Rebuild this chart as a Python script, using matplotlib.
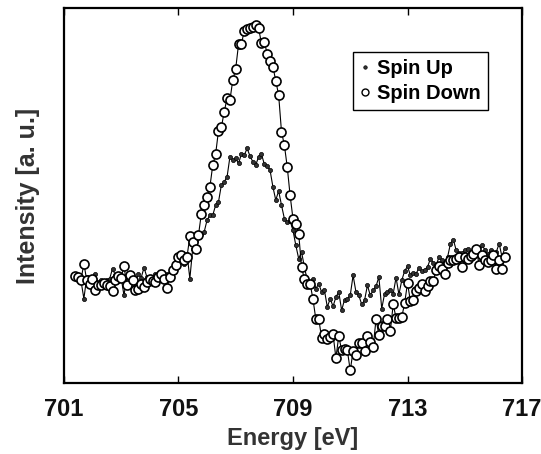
import numpy as np
import matplotlib
matplotlib.use("Agg")
import matplotlib.pyplot as plt

plt.rcParams['font.family'] = ['Liberation Sans', 'DejaVu Sans']

# energy grid, 0.1 eV steps
energy = np.round(np.arange(701.4, 716.45, 0.1), 2)

spin_up = [
    31.6, 31.2, 30.6, 25.3, 31.8, 30.3, 31.6, 32.6, 30.0, 31.0,
    30.2, 30.8, 31.3, 34.3, 32.3, 30.6, 31.6, 26.3, 31.8, 30.0,
    31.8, 30.8, 32.6, 31.6, 34.6, 31.8, 30.6, 31.8, 32.8, 31.2,
    32.3, 30.6, 32.6, 32.0, 33.3, 34.8, 36.3, 37.8, 35.8, 38.8,
    31.3, 40.3, 42.6, 44.8, 44.8, 45.3, 48.8, 50.3, 50.3, 53.3,
    54.3, 59.3, 60.3, 61.8, 67.8, 66.8, 67.3, 65.8, 68.6, 68.3,
    70.3, 68.0, 66.3, 65.3, 67.8, 68.6, 65.6, 65.0, 63.8, 58.8,
    54.8, 57.6, 53.3, 49.3, 48.3, 48.6, 45.8, 41.3, 37.3, 39.3,
    34.8, 30.8, 29.8, 31.3, 28.3, 29.8, 27.3, 27.8, 22.8, 25.3,
    23.0, 25.8, 27.3, 21.8, 25.0, 25.3, 26.3, 32.3, 27.3, 26.3,
    23.6, 24.8, 29.3, 26.3, 27.8, 29.0, 31.8, 22.3, 26.8, 27.3,
    27.8, 26.8, 31.6, 26.6, 30.8, 33.6, 35.0, 32.3, 33.0, 32.8,
    34.5, 33.5, 34.0, 34.8, 37.3, 36.0, 35.3, 37.8, 36.8, 36.0,
    37.8, 41.8, 43.0, 39.8, 39.0, 39.0, 39.8, 40.3, 39.3, 38.8,
    39.8, 39.0, 41.3, 40.0, 38.6, 39.8, 38.8, 39.3, 41.8, 37.8,
    40.6,
]

spin_down = [
    32.0, 31.8, 31.0, 35.8, 30.8, 29.8, 31.3, 27.8, 29.3, 29.3,
    30.0, 29.3, 29.0, 27.6, 30.8, 32.0, 31.6, 35.0, 29.3, 32.3,
    31.0, 27.8, 28.3, 29.8, 28.8, 30.3, 31.3, 30.6, 30.3, 31.8,
    32.8, 31.3, 28.6, 31.8, 33.8, 35.3, 37.8, 38.3, 36.8, 37.8,
    44.0, 42.3, 40.3, 44.3, 50.6, 53.3, 55.8, 58.8, 65.3, 68.6,
    75.6, 76.6, 81.3, 85.3, 84.8, 90.8, 94.1, 101.5, 101.5, 105.6,
    106.0, 106.3, 106.8, 107.3, 106.3, 101.8, 102.3, 98.6, 96.6, 94.8,
    90.5, 86.3, 75.3, 71.3, 64.8, 56.3, 49.3, 47.8, 44.8, 34.8,
    31.1, 29.8, 29.8, 25.1, 19.1, 19.3, 13.6, 14.6, 13.3, 13.8,
    14.6, 7.6, 14.1, 9.8, 10.1, 9.8, 3.8, 9.6, 8.5, 12.0,
    12.1, 9.6, 14.0, 12.3, 10.8, 19.1, 14.5, 17.0, 17.0, 19.3,
    15.6, 23.6, 19.6, 19.6, 19.8, 24.0, 30.0, 24.6, 24.8, 27.6,
    28.6, 29.6, 27.5, 29.0, 30.6, 30.6, 34.0, 35.1, 34.3, 32.6,
    36.0, 37.0, 37.0, 37.3, 37.8, 34.8, 37.8, 37.3, 38.0, 38.8,
    40.1, 35.5, 38.3, 37.0, 36.3, 37.0, 38.3, 34.3, 37.0, 34.3,
    37.8,
]

xticks = [701, 705, 709, 713, 717]

fig = plt.figure(figsize=(5.41, 4.54), dpi=100)
ax = fig.add_axes([0.118, 0.156, 0.847, 0.826])

ax.plot(energy, spin_up, '-', color='black', lw=0.8,
        marker='o', ms=3, mfc='#333333', mec='black', mew=0.5, label='Spin Up')
ax.plot(energy, spin_down, '-', color='black', lw=0.8,
        marker='o', ms=6.5, mfc='white', mec='black', mew=1.2, label='Spin Down')

ax.set_xlim(701, 717)
ax.set_ylim(0, 112.3)
ax.set_xticks(xticks)
ax.set_xticklabels([str(t) for t in xticks], fontsize=17, fontweight='bold', color='#111111')
ax.set_yticks([])
ax.tick_params(axis='x', direction='in', top=True, length=5, width=1, pad=11)
for s in ax.spines.values():
    s.set_linewidth(1.6)

ax.set_xlabel('Energy [eV]', fontsize=17, fontweight='bold', color='#333333', labelpad=4)
ax.set_ylabel('Intensity [a. u.]', fontsize=18, fontweight='bold', color='#333333', labelpad=17)

# legend shows markers only
h1, = ax.plot([], [], 'o', ms=2.5, mfc='#333333', mec='black', mew=0.5)
h2, = ax.plot([], [], 'o', ms=5, mfc='white', mec='black', mew=1.0)
leg = ax.legend([h1, h2], ['Spin Up', 'Spin Down'], loc='upper left',
                bbox_to_anchor=(0.631, 0.883), fancybox=False, framealpha=1,
                edgecolor='black', handlelength=0.5, handletextpad=0.35,
                borderpad=0.35, borderaxespad=0, labelspacing=0.3,
                prop={'weight': 'bold', 'size': 14.5})
leg.get_frame().set_linewidth(1.0)

fig.savefig('out.png', dpi=100)
